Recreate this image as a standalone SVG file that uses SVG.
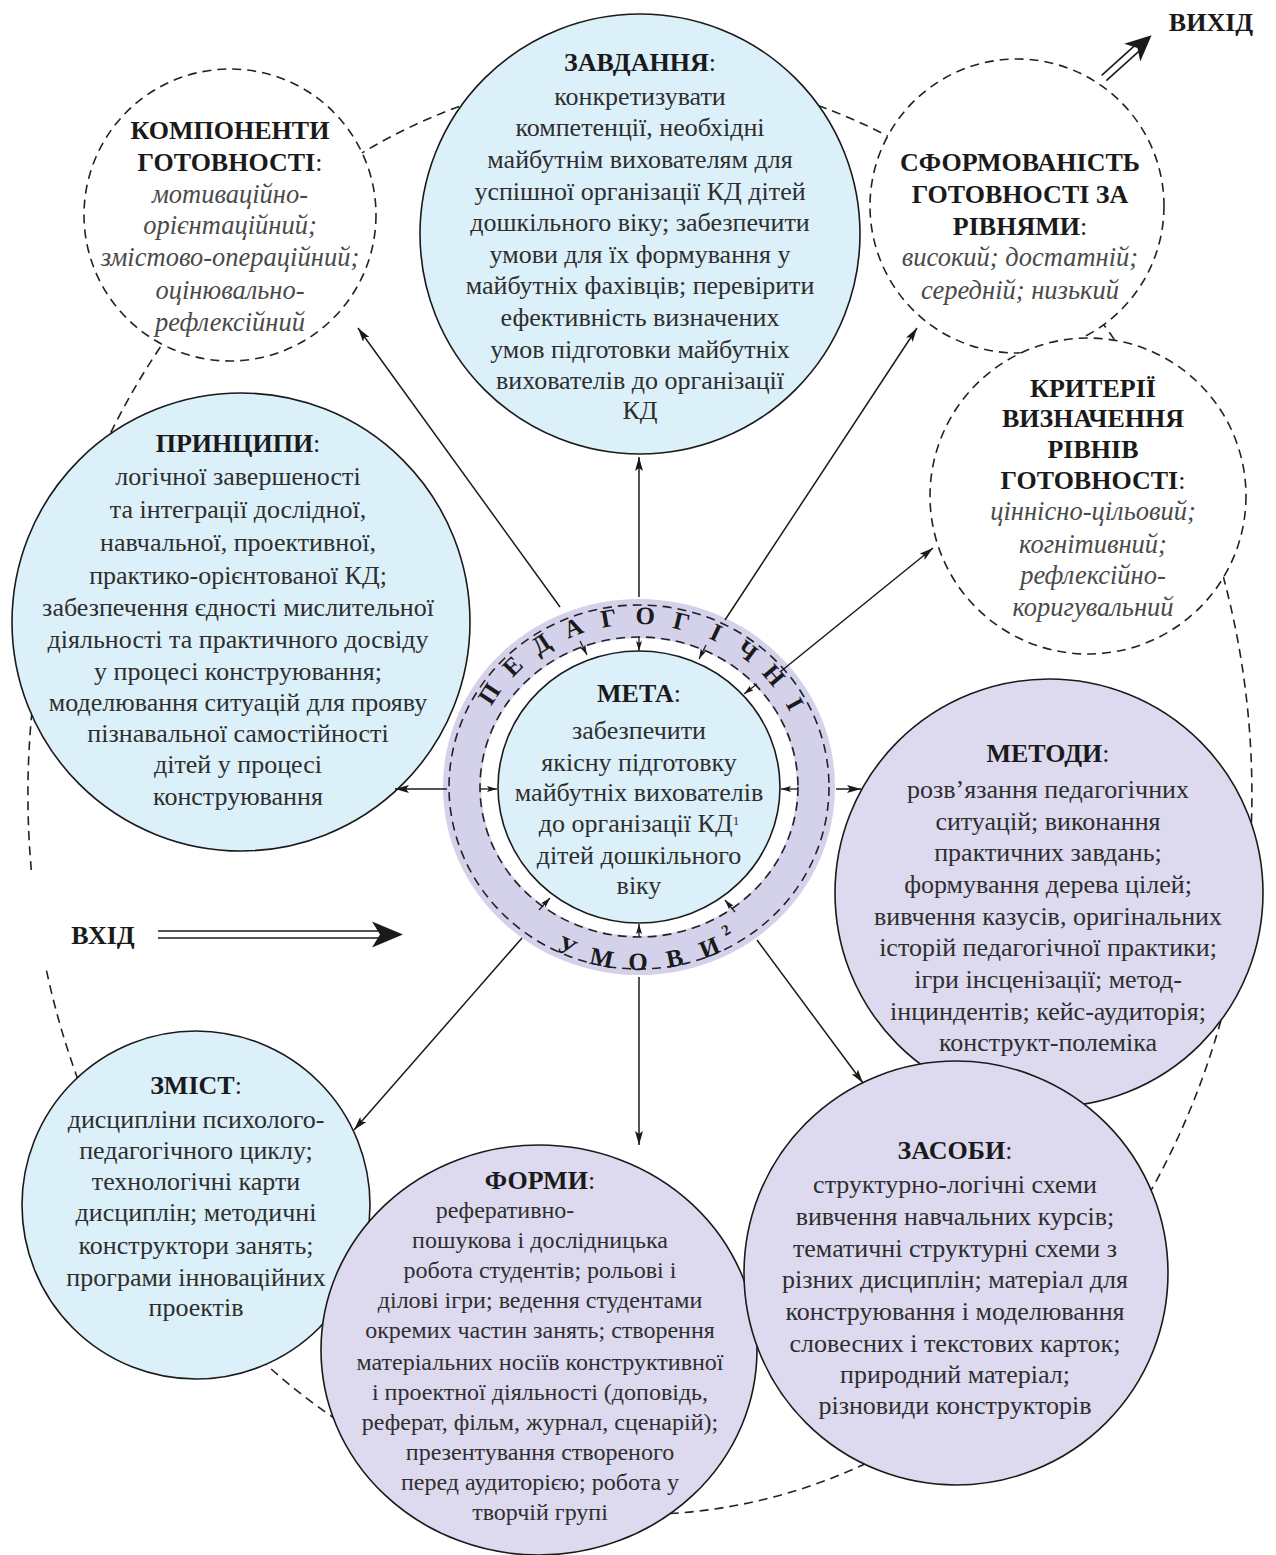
<svg xmlns="http://www.w3.org/2000/svg" width="1276" height="1555" viewBox="0 0 1276 1555">
<defs>
<style>
.hd{font-family:'Liberation Serif',serif;font-weight:bold;font-size:26px;fill:#1a1a1a;text-anchor:middle}
.hd tspan.c{font-weight:normal}
.tx{font-family:'Liberation Serif',serif;font-size:26px;fill:#2e2e2e;text-anchor:middle}
.fm{font-family:'Liberation Serif',serif;font-size:24px;fill:#2e2e2e;text-anchor:middle}
.it{font-family:'Liberation Serif',serif;font-style:italic;font-size:26.5px;fill:#4a4a4a;text-anchor:middle}
.rg{font-family:'Liberation Serif',serif;font-weight:bold;font-size:25px;fill:#1a1a1a;text-anchor:middle}
.blue{fill:#dcf0fa;stroke:#1a1a1a;stroke-width:1.6}
.purple{fill:#dddaf0;stroke:#1a1a1a;stroke-width:1.6}
.dash{fill:#fff;stroke:#222;stroke-width:1.6;stroke-dasharray:9 6}
.loop{fill:none;stroke:#222;stroke-width:1.6;stroke-dasharray:9 6}
.conn{stroke:#1a1a1a;stroke-width:1.5;fill:none;marker-end:url(#ah)}
.inn{stroke:#1a1a1a;stroke-width:1.3;fill:none;marker-end:url(#ahs)}
.dbl{stroke:#1a1a1a;stroke-width:1.6;fill:none}
</style>
<marker id="ah" viewBox="0 0 14 8" refX="14" refY="4" markerWidth="14" markerHeight="8" orient="auto" markerUnits="userSpaceOnUse"><path d="M0,0 L14,4 L0,8 L3,4 z" fill="#1a1a1a"/></marker>
<marker id="ahs" viewBox="0 0 10 6" refX="10" refY="3" markerWidth="10" markerHeight="6" orient="auto" markerUnits="userSpaceOnUse"><path d="M0,0 L10,3 L0,6 L2,3 z" fill="#1a1a1a"/></marker>
</defs>
<rect width="1276" height="1555" fill="#fff"/>

<g id="loop">
<path class="loop" d="M31.3,870 A612,720 0 1,1 46.4,970"/>
</g>

<g id="node-komponenty">
<circle class="dash" cx="230" cy="215" r="146"/>
<text class="hd" x="230" y="139">КОМПОНЕНТИ</text>
<text class="hd" x="230" y="171">ГОТОВНОСТІ<tspan class="c">:</tspan></text>
<text class="it" x="230" y="203">мотиваційно-</text>
<text class="it" x="230" y="234">орієнтаційний;</text>
<text class="it" x="230" y="266">змістово-операційний;</text>
<text class="it" x="230" y="299">оцінювально-</text>
<text class="it" x="230" y="331">рефлексійний</text>
</g>

<g id="node-sformovanist">
<circle class="dash" cx="1017" cy="206" r="147"/>
<text class="hd" x="1020" y="171">СФОРМОВАНІСТЬ</text>
<text class="hd" x="1020" y="203">ГОТОВНОСТІ ЗА</text>
<text class="hd" x="1020" y="235">РІВНЯМИ<tspan class="c">:</tspan></text>
<text class="it" x="1020" y="266">високий; достатній;</text>
<text class="it" x="1020" y="299">середній; низький</text>
</g>

<g id="node-kryterii">
<circle class="dash" cx="1088" cy="496" r="158"/>
<text class="hd" x="1093" y="397">КРИТЕРІЇ</text>
<text class="hd" x="1093" y="427">ВИЗНАЧЕННЯ</text>
<text class="hd" x="1093" y="458">РІВНІВ</text>
<text class="hd" x="1093" y="489">ГОТОВНОСТІ<tspan class="c">:</tspan></text>
<text class="it" x="1093" y="520">ціннісно-цільовий;</text>
<text class="it" x="1093" y="553">когнітивний;</text>
<text class="it" x="1093" y="584">рефлексійно-</text>
<text class="it" x="1093" y="616">коригувальний</text>
</g>

<g id="node-zavdannia">
<circle class="blue" cx="640" cy="234" r="220"/>
<text class="hd" x="640" y="71">ЗАВДАННЯ<tspan class="c">:</tspan></text>
<g style="font-size:25.5px">
<text class="tx" x="640" y="105">конкретизувати</text>
<text class="tx" x="640" y="136">компетенції, необхідні</text>
<text class="tx" x="640" y="168">майбутнім вихователям для</text>
<text class="tx" x="640" y="200">успішної організації КД дітей</text>
<text class="tx" x="640" y="231">дошкільного віку; забезпечити</text>
<text class="tx" x="640" y="263">умови для їх формування у</text>
<text class="tx" x="640" y="294">майбутніх фахівців; перевірити</text>
<text class="tx" x="640" y="326">ефективність визначених</text>
<text class="tx" x="640" y="358">умов підготовки майбутніх</text>
<text class="tx" x="640" y="389">вихователів до організації</text>
<text class="tx" x="640" y="419">КД</text>
</g>
</g>

<g id="node-pryntsypy">
<circle class="blue" cx="241" cy="622" r="229"/>
<text class="hd" x="238" y="452">ПРИНЦИПИ<tspan class="c">:</tspan></text>
<text class="tx" x="238" y="485">логічної завершеності</text>
<text class="tx" x="238" y="518">та інтеграції дослідної,</text>
<text class="tx" x="238" y="551">навчальної, проективної,</text>
<text class="tx" x="238" y="584">практико-орієнтованої КД;</text>
<text class="tx" x="238" y="616">забезпечення єдності мислительної</text>
<text class="tx" x="238" y="648">діяльності та практичного досвіду</text>
<text class="tx" x="238" y="680">у процесі конструювання;</text>
<text class="tx" x="238" y="711">моделювання ситуацій для прояву</text>
<text class="tx" x="238" y="742">пізнавальної самостійності</text>
<text class="tx" x="238" y="773">дітей у процесі</text>
<text class="tx" x="238" y="805">конструювання</text>
</g>

<g id="node-metody">
<circle class="purple" cx="1049" cy="893" r="214"/>
<text class="hd" x="1048" y="762">МЕТОДИ<tspan class="c">:</tspan></text>
<text class="tx" x="1048" y="798">розв’язання педагогічних</text>
<text class="tx" x="1048" y="830">ситуацій; виконання</text>
<text class="tx" x="1048" y="861">практичних завдань;</text>
<text class="tx" x="1048" y="893">формування дерева цілей;</text>
<text class="tx" x="1048" y="925">вивчення казусів, оригінальних</text>
<text class="tx" x="1048" y="956">історій педагогічної практики;</text>
<text class="tx" x="1048" y="988">ігри інсценізації; метод-</text>
<text class="tx" x="1048" y="1020">інциндентів; кейс-аудиторія;</text>
<text class="tx" x="1048" y="1051">конструкт-полеміка</text>
</g>

<g id="node-zmist">
<circle class="blue" cx="196" cy="1205" r="174"/>
<text class="hd" x="196" y="1094">ЗМІСТ<tspan class="c">:</tspan></text>
<text class="tx" x="196" y="1128">дисципліни психолого-</text>
<text class="tx" x="196" y="1159">педагогічного циклу;</text>
<text class="tx" x="196" y="1190">технологічні карти</text>
<text class="tx" x="196" y="1221">дисциплін; методичні</text>
<text class="tx" x="196" y="1254">конструктори занять;</text>
<text class="tx" x="196" y="1286">програми інноваційних</text>
<text class="tx" x="196" y="1316">проектів</text>
</g>

<g id="node-formy">
<ellipse class="purple" cx="539" cy="1350" rx="218" ry="205"/>
<text class="hd" x="540" y="1189">ФОРМИ<tspan class="c">:</tspan></text>
<text class="fm" x="505" y="1218">реферативно-</text>
<text class="fm" x="540" y="1248">пошукова і дослідницька</text>
<text class="fm" x="540" y="1278">робота студентів; рольові і</text>
<text class="fm" x="540" y="1308">ділові ігри; ведення студентами</text>
<text class="fm" x="540" y="1338">окремих частин занять; створення</text>
<text class="fm" x="540" y="1370">матеріальних носіїв конструктивної</text>
<text class="fm" x="540" y="1400">і проектної діяльності (доповідь,</text>
<text class="fm" x="540" y="1430">реферат, фільм, журнал, сценарій);</text>
<text class="fm" x="540" y="1460">презентування створеного</text>
<text class="fm" x="540" y="1490">перед аудиторією; робота у</text>
<text class="fm" x="540" y="1520">творчій групі</text>
</g>

<g id="node-zasoby">
<circle class="purple" cx="956" cy="1273" r="212"/>
<text class="hd" x="955" y="1159">ЗАСОБИ<tspan class="c">:</tspan></text>
<text class="tx" x="955" y="1193">структурно-логічні схеми</text>
<text class="tx" x="955" y="1225">вивчення навчальних курсів;</text>
<text class="tx" x="955" y="1257">тематичні структурні схеми з</text>
<text class="tx" x="955" y="1288">різних дисциплін; матеріал для</text>
<text class="tx" x="955" y="1320">конструювання і моделювання</text>
<text class="tx" x="955" y="1352">словесних і текстових карток;</text>
<text class="tx" x="955" y="1383">природний матеріал;</text>
<text class="tx" x="955" y="1414">різновиди конструкторів</text>
</g>

<g id="node-meta">
<path d="M443,787 a196,188 0 1,0 392,0 a196,188 0 1,0 -392,0 Z M481,787 a158,149 0 1,1 316,0 a158,149 0 1,1 -316,0 Z" fill="#d4d1eb" fill-rule="evenodd"/>
<ellipse cx="639" cy="787" rx="190" ry="182" fill="none" stroke="#222" stroke-width="1.6" stroke-dasharray="9 6"/>
<ellipse cx="639" cy="787" rx="159" ry="150" fill="none" stroke="#222" stroke-width="1.6" stroke-dasharray="9 6"/>
<ellipse class="blue" cx="639" cy="787" rx="141" ry="136"/>
<g id="ring-top">
<text class="rg" transform="translate(489.7,693.9) rotate(-57)" y="8">П</text>
<text class="rg" transform="translate(512.7,666.5) rotate(-45.2)" y="8">Е</text>
<text class="rg" transform="translate(541,644.2) rotate(-33.4)" y="8">Д</text>
<text class="rg" transform="translate(573.5,628) rotate(-21.6)" y="8">А</text>
<text class="rg" transform="translate(608.7,618.5) rotate(-9.8)" y="8">Г</text>
<text class="rg" transform="translate(645.2,616.1) rotate(2)" y="8">О</text>
<text class="rg" transform="translate(681.5,621.9) rotate(13.8)" y="8">Г</text>
<text class="rg" transform="translate(715.9,632.8) rotate(25.6)" y="8">І</text>
<text class="rg" transform="translate(747.1,651.2) rotate(37.4)" y="8">Ч</text>
<text class="rg" transform="translate(773.7,675.3) rotate(49.2)" y="8">Н</text>
<text class="rg" transform="translate(794.7,704.1) rotate(61)" y="8">І</text>
</g>
<g id="ring-bottom">
<text class="rg" transform="translate(566.9,947) rotate(23.9)" y="8">У</text>
<text class="rg" transform="translate(601.7,958.1) rotate(12.1)" y="8">М</text>
<text class="rg" transform="translate(638.1,962) rotate(0.3)" y="8">О</text>
<text class="rg" transform="translate(674.5,958.5) rotate(-11.5)" y="8">В</text>
<text class="rg" transform="translate(709.4,947.7) rotate(-23.3)" y="8">И</text>
<text class="rg" style="font-size:15px" transform="translate(726,930) rotate(-31)" y="5">2</text>
</g>
<text class="hd" x="639" y="702">МЕТА<tspan class="c">:</tspan></text>
<text class="tx" x="639" y="739">забезпечити</text>
<text class="tx" x="639" y="771">якісну підготовку</text>
<text class="tx" x="639" y="801">майбутніх вихователів</text>
<text class="tx" x="639" y="832">до організації КД<tspan font-size="13" baseline-shift="super">1</tspan></text>
<text class="tx" x="639" y="864">дітей дошкільного</text>
<text class="tx" x="639" y="894">віку</text>
</g>

<g id="connectors">
<path class="conn" d="M639,597 L639,457"/>
<path class="conn" d="M560,607 L358,328"/>
<path class="conn" d="M725,620 L917,328"/>
<path class="conn" d="M780,672 L933,548"/>
<path class="conn" d="M447,789 L395,789"/>
<path class="conn" d="M836,789 L861,789"/>
<path class="conn" d="M522,938 L354,1130"/>
<path class="conn" d="M639,977 L639,1145"/>
<path class="conn" d="M757,940 L863,1083"/>
<path class="inn" d="M639,637 L639,651"/>
<path class="inn" d="M580,641 L587,655"/>
<path class="inn" d="M706,645 L699,659"/>
<path class="inn" d="M757,684 L744,694"/>
<path class="inn" d="M480,789 L497,789"/>
<path class="inn" d="M798,789 L781,789"/>
<path class="inn" d="M539,910 L550,898"/>
<path class="inn" d="M639,937 L639,924"/>
<path class="inn" d="M735,912 L725,900"/>
</g>

<g id="io">
<text class="hd" x="103" y="944">ВХІД</text>
<g transform="translate(158,934.5)">
<line class="dbl" x1="0" y1="-3.5" x2="226" y2="-3.5"/>
<line class="dbl" x1="0" y1="3.5" x2="226" y2="3.5"/>
<polygon points="245,0 214,-13 222,0 214,13" fill="#1a1a1a"/>
</g>
<text class="hd" x="1211" y="31">ВИХІД</text>
<g transform="translate(1104,78) rotate(-42)">
<line class="dbl" x1="0" y1="-3.5" x2="44" y2="-3.5"/>
<line class="dbl" x1="0" y1="3.5" x2="44" y2="3.5"/>
<polygon points="64,0 38,-12 45,0 38,12" fill="#1a1a1a"/>
</g>
</g>
</svg>
